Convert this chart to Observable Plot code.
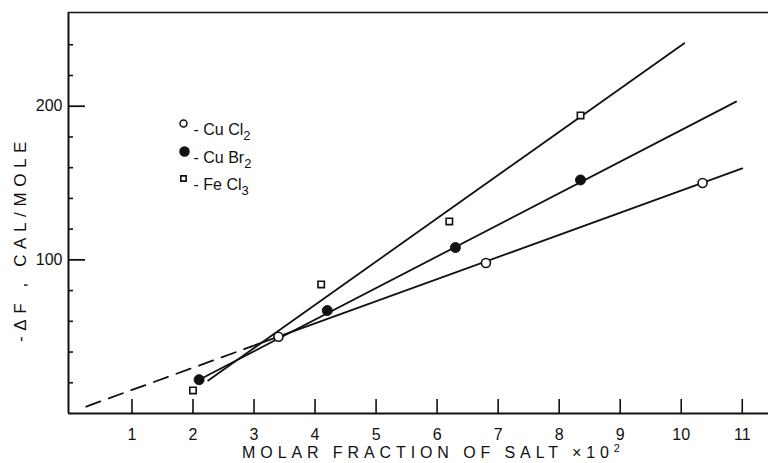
<!DOCTYPE html>
<html>
<head>
<meta charset="utf-8">
<script src="https://cdn.jsdelivr.net/npm/d3@7"></script>
<script src="https://cdn.jsdelivr.net/npm/@observablehq/plot@0.6"></script>
<style>
  html, body { margin: 0; padding: 0; background: #fff; }
  #chart { width: 768px; height: 463px; }
</style>
</head>
<body>
<div id="chart"></div>
<script>
// ---- data ----
const xTicks = [1, 2, 3, 4, 5, 6, 7, 8, 9, 10, 11];
const yMajor = [100, 200];
const yMinor = [20, 40, 60, 80, 120, 140, 160, 180, 220, 240];
const xDomain = [-0.04, 11.43];
const yDomain = [0, 261];

// measured points
const cucl2X = [3.4, 6.8, 10.35];
const cucl2Y = [50, 98, 150];
const cubr2X = [2.1, 4.2, 6.3, 8.35];
const cubr2Y = [22, 67, 108, 152];
const fecl3X = [2.0, 4.1, 6.2, 8.35];
const fecl3Y = [15, 84, 125, 194];

// fitted lines (end points)
const cucl2LineX = [2.95, 11.0];
const cucl2LineY = [43.5, 159.5];
const cucl2DashX = [0.25, 2.95];
const cucl2DashY = [4.5, 43.5];
const cubr2LineX = [2.1, 10.9];
const cubr2LineY = [22, 203];
const fecl3LineX = [2.25, 10.05];
const fecl3LineY = [21.5, 241];

// legend: formula body and subscript
const legendNames = ["- Cu Cl", "- Cu Br", "- Fe Cl"];
const legendSubs = ["2", "2", "3"];

const xAxisTitle = "MOLAR FRACTION OF SALT ×10";
const xAxisSup = "2";
const yAxisTitle = "-ΔF , CAL/MOLE";

// ---- build ----
const zip = (xs, ys) => xs.map((x, i) => ({x, y: ys[i]}));
const FONT = "Liberation Sans, Arial, sans-serif";

const W = 768, H = 463;
const mL = 68, mT = 12, mB = 50, mR = 0;
const innerW = W - mL - mR, innerH = H - mT - mB;
const legendDy = [111, 139, 166];

const chart = Plot.plot({
  width: W,
  height: H,
  marginLeft: mL,
  marginTop: mT,
  marginBottom: mB,
  marginRight: mR,
  style: {fontFamily: FONT, background: "#fff", color: "#111"},
  x: {domain: xDomain},
  y: {domain: yDomain},
  marks: [
    // frame (left, top, bottom)
    Plot.ruleX([xDomain[0]], {stroke: "#111", strokeWidth: 2}),
    Plot.ruleY([yDomain[0]], {stroke: "#111", strokeWidth: 2}),
    Plot.ruleY([yDomain[1]], {stroke: "#111", strokeWidth: 1.5}),
    // inward ticks
    Plot.ruleX(xTicks, {x: d => d, stroke: "#111", strokeWidth: 1.6, insetTop: innerH - 14}),
    Plot.ruleY(yMajor, {y: d => d, stroke: "#111", strokeWidth: 1.8, insetRight: innerW - 17}),
    Plot.ruleY(yMinor, {y: d => d, stroke: "#111", strokeWidth: 1.6, insetRight: innerW - 5}),
    // tick labels
    Plot.axisX({ticks: xTicks, tickSize: 0, tickPadding: 15, fontSize: 16, label: null, tickFormat: d => String(d)}),
    Plot.axisY({ticks: yMajor, tickSize: 0, tickPadding: 6, fontSize: 16, label: null, tickFormat: d => String(d)}),
    // fitted lines
    Plot.line(zip(cucl2DashX, cucl2DashY), {x: "x", y: "y", stroke: "#111", strokeWidth: 1.8, strokeDasharray: "15,9"}),
    Plot.line(zip(cucl2LineX, cucl2LineY), {x: "x", y: "y", stroke: "#111", strokeWidth: 1.8}),
    Plot.line(zip(cubr2LineX, cubr2LineY), {x: "x", y: "y", stroke: "#111", strokeWidth: 1.8}),
    Plot.line(zip(fecl3LineX, fecl3LineY), {x: "x", y: "y", stroke: "#111", strokeWidth: 1.8}),
    // points
    Plot.dot(zip(cucl2X, cucl2Y), {x: "x", y: "y", r: 4.5, fill: "#fff", stroke: "#111", strokeWidth: 1.6}),
    Plot.dot(zip(cubr2X, cubr2Y), {x: "x", y: "y", r: 5, fill: "#111", stroke: "#111", strokeWidth: 1}),
    Plot.dot(zip(fecl3X, fecl3Y), {x: "x", y: "y", r: 3.6, symbol: "square", fill: "#fff", stroke: "#111", strokeWidth: 1.6}),
    // legend symbols
    Plot.dot([0], {frameAnchor: "top-left", dx: 115, dy: legendDy[0], r: 3.5, fill: "#fff", stroke: "#111", strokeWidth: 1.5}),
    Plot.dot([0], {frameAnchor: "top-left", dx: 116, dy: legendDy[1], r: 4.5, fill: "#111", stroke: "#111"}),
    Plot.dot([0], {frameAnchor: "top-left", dx: 115, dy: legendDy[2], r: 3, symbol: "square", fill: "#fff", stroke: "#111", strokeWidth: 1.6}),
    // legend labels
    ...legendNames.map((name, i) =>
      Plot.text([name], {text: d => d, frameAnchor: "top-left", textAnchor: "start", dx: 125, dy: legendDy[i], fontSize: 16, fill: "#111"})
    ),
    // axis titles
    Plot.text([xAxisTitle], {text: d => d, frameAnchor: "bottom", textAnchor: "middle", dx: 15, dy: 44, fontSize: 16, fill: "#111"}),
    Plot.text([yAxisTitle], {text: d => d, frameAnchor: "left", textAnchor: "middle", rotate: -90, dx: -48, dy: 26, fontSize: 17, fill: "#111"})
  ]
});

// typographic touches: subscripts, superscript, letter spacing
const svgNS = "http://www.w3.org/2000/svg";
const addScript = (t, s, dy, size) => {
  const ts = document.createElementNS(svgNS, "tspan");
  ts.setAttribute("dy", dy);
  ts.setAttribute("font-size", size);
  ts.textContent = s;
  t.appendChild(ts);
};
chart.querySelectorAll("text").forEach(t => {
  const s = t.textContent;
  const li = legendNames.indexOf(s);
  if (li >= 0) addScript(t, legendSubs[li], "5", "13");
  if (s === xAxisTitle) {
    t.setAttribute("letter-spacing", "4.9");
    addScript(t, xAxisSup, "-6", "11");
  }
  if (s === yAxisTitle) t.setAttribute("letter-spacing", "5.6");
});
document.getElementById("chart").appendChild(chart);
</script>
</body>
</html>
